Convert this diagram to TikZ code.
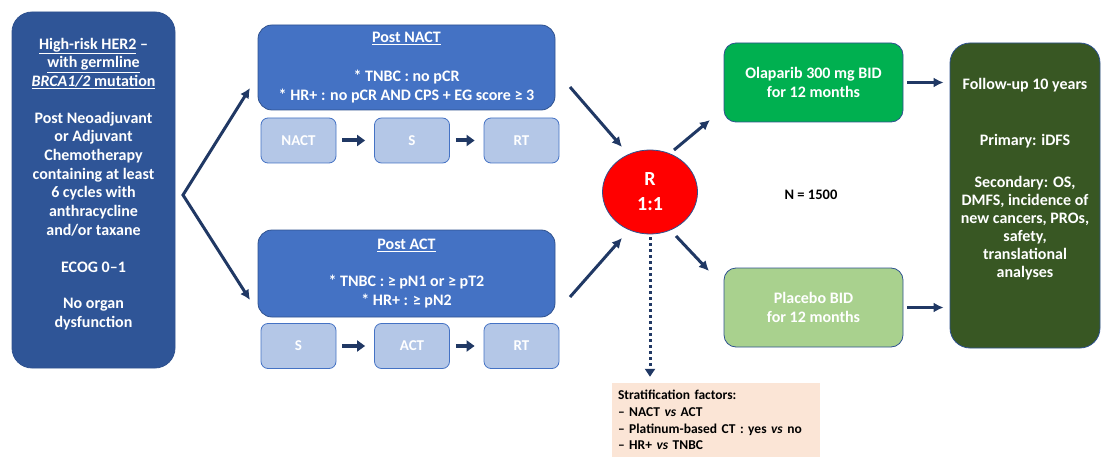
\documentclass[tikz,border=0pt]{standalone}
\usepackage{fontspec}
\setmainfont{Carlito}
\usetikzlibrary{arrows.meta,shapes.geometric}
\definecolor{navy}{HTML}{203864}
\definecolor{edge}{HTML}{2F528F}
\definecolor{boxdark}{HTML}{2F5597}
\definecolor{boxmid}{HTML}{4472C4}
\definecolor{boxlight}{HTML}{B4C7E7}
\definecolor{olagreen}{HTML}{00B050}
\definecolor{placgreen}{HTML}{A9D18E}
\definecolor{fugreen}{HTML}{385723}
\definecolor{peach}{HTML}{FBE5D6}
\tikzset{
  box/.style={draw=edge, line width=0.8pt, text=white, align=center, inner sep=2pt,
    font=\bfseries\fontsize{16}{18.7}\selectfont},
  phase/.style={draw=boxmid, line width=0.8pt, fill=boxlight, rounded corners=7pt, text=white,
    minimum width=75pt, minimum height=45pt, font=\bfseries\fontsize{15}{17}\selectfont},
  arr/.style={navy, line width=3pt, -{Latex[length=10pt,width=10pt]}},
  shortarr/.style={navy, line width=4pt, -{Triangle[length=8pt,width=11pt]}, shorten <=6pt, shorten >=9pt},
}
\begin{document}
\begin{tikzpicture}[x=1pt,y=-1pt]
\useasboundingbox (0,0) rectangle (1102,457);
\node[box, fill=boxdark, minimum width=163pt, minimum height=356pt, rounded corners=20pt] (crit) at (93.5,190)
  {\underline{High-risk HER2} --\\ \underline{with germline}\\ \underline{\textit{BRCA1/2} mutation}\\[18pt]
   Post Neoadjuvant\\ or Adjuvant\\ Chemotherapy\\ containing at least\\ 6 cycles with\\ anthracycline\\ and/or taxane\\[18pt]
   ECOG 0--1\\[18pt] No organ\\ dysfunction\\[-4pt]~};
\node[box, fill=boxmid, minimum width=297pt, minimum height=85pt, rounded corners=14pt] (nact) at (406.5,67.5)
  {\underline{Post NACT}\\[20pt] * TNBC : no pCR\\ * HR+ : no pCR AND CPS + EG score ≥ 3};
\node[box, fill=boxmid, minimum width=297pt, minimum height=87pt, rounded corners=14pt] (act) at (406.5,273.5)
  {\underline{Post ACT}\\[18pt] * TNBC : ≥ pN1 or ≥ pT2\\ * HR+ : ≥ pN2};
\node[phase] (nact1) at (298.5,140.5) {NACT};
\node[phase] (nact2) at (412,140.5) {S};
\node[phase] (nact3) at (521.5,140.5) {RT};
\node[phase] (act1) at (298.5,346) {S};
\node[phase] (act2) at (412,346) {ACT};
\node[phase] (act3) at (521.5,346) {RT};
\node[ellipse, draw=edge, line width=0.8pt, fill=red, text=white, minimum width=95pt, minimum height=84pt,
  align=center, font=\bfseries\fontsize{20}{25}\selectfont] (R) at (650,192) {R\\1:1};
\node[box, fill=olagreen, minimum width=179pt, minimum height=79pt, rounded corners=12pt] (ola) at (813.5,82.5)
  {Olaparib 300 mg BID\\ for 12 months};
\node[box, fill=placgreen, minimum width=179pt, minimum height=79pt, rounded corners=12pt] (plac) at (813.5,307.5)
  {Placebo BID\\ for 12 months};
\node[font=\bfseries\fontsize{14.5}{16}\selectfont] (n) at (811,195) {N = 1500};
\node[box, fill=fugreen, minimum width=150pt, minimum height=305pt, rounded corners=20pt,
  font=\bfseries\fontsize{16}{18}\selectfont] (fu) at (1025,195.5)
  {Follow-up 10 years\\[38pt] Primary: iDFS\\[24pt] Secondary: OS,\\ DMFS, incidence of\\ new cancers, PROs,\\ safety,\\ translational\\ analyses\\[18pt]~};
\node[fill=peach, minimum width=208pt, minimum height=74pt, text width=196pt, align=left, inner xsep=6pt,
  font=\bfseries\fontsize{13.5}{16.7}\selectfont] (strat) at (716,420)
  {Stratification factors:\\ -- NACT \textit{vs} ACT\\ -- Platinum-based CT : yes \textit{vs} no\\ -- HR+ \textit{vs} TNBC};
\coordinate (fork) at (183,195);
\coordinate (ftop) at (250,88);
\coordinate (fbot) at (250,300);
\coordinate (a1) at (570,87);
\coordinate (a1e) at (622,147);
\coordinate (a2) at (570,297);
\coordinate (a2e) at (622,238);
\coordinate (b1) at (674,150);
\coordinate (b1e) at (710,120);
\coordinate (b2) at (676,236);
\coordinate (b2e) at (709,271);
\draw[arr, {Latex[length=10pt,width=10pt]}-{Latex[length=10pt,width=10pt]}] (ftop) -- (fork) -- (fbot);
\draw[shortarr] (nact1) -- (nact2);
\draw[shortarr] (nact2) -- (nact3);
\draw[shortarr] (act1) -- (act2);
\draw[shortarr] (act2) -- (act3);
\draw[arr] (a1) -- (a1e);
\draw[arr] (a2) -- (a2e);
\draw[arr] (b1) -- (b1e);
\draw[arr] (b2) -- (b2e);
\draw[arr, shorten <=4pt, shorten >=6pt] (ola) -- (ola -| fu.west);
\draw[arr, shorten <=4pt, shorten >=6pt] (plac) -- (plac -| fu.west);
\draw[navy, line width=3pt, dash pattern=on 3pt off 3pt, -{Triangle[length=8pt,width=10pt]}, shorten <=3pt, shorten >=6pt] (R) -- (R |- strat.north);
\end{tikzpicture}
\end{document}
